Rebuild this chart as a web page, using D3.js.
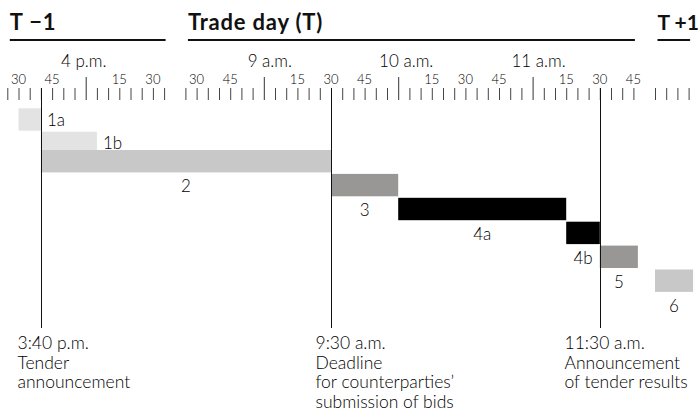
<!DOCTYPE html>
<html>
<head>
<meta charset="utf-8">
<script src="https://cdn.jsdelivr.net/npm/d3@7/dist/d3.min.js"></script>
<style>
  html, body { margin: 0; padding: 0; background: #fff; }
  svg { display: block; font-family: Lato, "Open Sans", sans-serif; }
</style>
</head>
<body>
<svg id="chart" width="700" height="414"></svg>
<script>
// ---------------- DATA ----------------
const days = ["T \u22121", "Trade day (T)", "T +1"];
const dayTickStart = ["T-1 15:25", "T 08:25", "T+1 09:00"];
const dayTickEnd   = ["T-1 16:35", "T 11:45", "T+1 09:15"];

const hourLabels = ["4 p.m.", "9 a.m.", "10 a.m.", "11 a.m."];
const hourTimes  = ["T-1 16:00", "T 09:00", "T 10:00", "T 11:00"];

const minuteTimes = ["T-1 15:30", "T-1 15:45", "T-1 16:15", "T-1 16:30",
                     "T 08:30", "T 08:45", "T 09:15", "T 09:30", "T 09:45",
                     "T 10:15", "T 10:30", "T 10:45", "T 11:15", "T 11:30", "T 11:45"];

const tasks      = ["1a", "1b", "2", "3", "4a", "4b", "5", "6"];
const startTimes = ["T-1 15:30", "T-1 15:40", "T-1 15:40", "T 09:30", "T 10:00", "T 11:15", "T 11:30", "T+1 09:00"];
const endTimes   = ["T-1 15:40", "T-1 16:05", "T 09:30", "T 10:00", "T 11:15", "T 11:30", "T 11:47", "T+1 09:17"];

const eventTimes = ["T-1 15:40", "T 09:30", "T 11:30"];
const eventTexts = [
  ["3:40 p.m.", "Tender", "announcement"],
  ["9:30 a.m.", "Deadline", "for counterparties\u2019", "submission of bids"],
  ["11:30 a.m.", "Announcement", "of tender results"]
];

// ---------------- LAYOUT / STYLE ----------------
const taskColor = {"1a": "#e3e3e3", "1b": "#e3e3e3", "2": "#c8c8c8", "3": "#989795",
                   "4a": "#000000", "4b": "#000000", "5": "#989795", "6": "#c8c8c8"};
const labelRight = {"1a": true, "1b": true};
const hourDx = [-2, 6, 8, 6];
const eventDx = [-24, -16, -36];
const headerSpacing = [0.8, 0.8, 0];
const textColor = "#000";
const lightW = 300;

function parseT(s) {
  const [day, hm] = s.split(" ");
  const [h, m] = hm.split(":").map(Number);
  const off = {"T-1": 0, "T": 1440, "T+1": 2880}[day];
  return off + h * 60 + m;
}

const k = 2.24; // px per minute
const x = d3.scaleLinear()
  .domain([parseT("T-1 15:25"), parseT("T-1 16:35"), parseT("T 08:25"), parseT("T 11:50"), parseT("T+1 09:00"), parseT("T+1 09:20")])
  .range([85.7 - 35 * k, 85.7 + 35 * k, 331 - 65 * k, 331 + 140 * k, 655, 655 + 20 * k]);

const row = d3.scaleLinear().domain([0, 1, 2, 7]).range([108.3, 131.7, 150, 269.5]);
const barH = 22.4;

const svg = d3.select("#chart");

// ---------------- HEADERS ----------------
days.forEach((d, i) => {
  const x0 = x(parseT(dayTickStart[i])) + 2.5;
  const x1 = x(parseT(dayTickEnd[i])) + 1.5;
  svg.append("line").attr("x1", x0).attr("x2", x1).attr("y1", 40).attr("y2", 40)
    .attr("stroke", "#111").attr("stroke-width", 2);
  svg.append("text").attr("x", x0).attr("y", 30).text(d)
    .attr("font-weight", 700).attr("font-size", i === 2 ? 21 : 22)
    .attr("letter-spacing", headerSpacing[i]).attr("fill", "#111");
});

// ---------------- RULER ----------------
let allTicks = [];
days.forEach((d, i) => {
  const a = parseT(dayTickStart[i]), b = parseT(dayTickEnd[i]);
  for (let t = a; t <= b; t += 5) allTicks.push(t);
});
const hourSet = new Set(hourTimes.map(parseT));
const minorTicks = allTicks.filter(t => !hourSet.has(t));

const minorAxis = d3.axisTop(x).tickValues(minorTicks).tickSize(12).tickFormat("");
svg.append("g").attr("transform", "translate(0,100)").call(minorAxis)
  .call(g => g.select(".domain").remove())
  .call(g => g.selectAll("line").attr("stroke", "#444").attr("stroke-width", 1));

const majorAxis = d3.axisTop(x).tickValues(hourTimes.map(parseT)).tickSize(23).tickFormat("");
svg.append("g").attr("transform", "translate(0,100)").call(majorAxis)
  .call(g => g.select(".domain").remove())
  .call(g => g.selectAll("line").attr("stroke", "#333").attr("stroke-width", 1));

// minute labels
svg.append("g").selectAll("text").data(minuteTimes).join("text")
  .attr("x", d => x(parseT(d)))
  .attr("y", 84)
  .attr("text-anchor", "middle")
  .attr("font-size", 13)
  .attr("font-weight", lightW)
  .attr("fill", textColor)
  .text(d => d.split(":")[1]);

// hour labels
svg.append("g").selectAll("text").data(hourLabels).join("text")
  .attr("x", (d, i) => x(parseT(hourTimes[i])) + hourDx[i])
  .attr("y", 67)
  .attr("text-anchor", "middle")
  .attr("font-size", 17)
  .attr("font-weight", lightW)
  .attr("fill", textColor)
  .text(d => d);

// ---------------- BARS ----------------
const bars = svg.append("g");
tasks.forEach((t, i) => {
  const x0 = x(parseT(startTimes[i])), x1 = x(parseT(endTimes[i]));
  bars.append("rect")
    .attr("x", x0).attr("y", row(i))
    .attr("width", x1 - x0).attr("height", barH)
    .attr("fill", taskColor[t]);
});
tasks.forEach((t, i) => {
  const x0 = x(parseT(startTimes[i])), x1 = x(parseT(endTimes[i]));
  const lab = bars.append("text").attr("font-size", 17).attr("font-weight", lightW)
    .attr("fill", textColor).text(t);
  if (labelRight[t]) {
    lab.attr("x", x1 + 6).attr("y", row(i) + barH / 2 + 6);
  } else {
    lab.attr("x", (x0 + x1) / 2).attr("y", row(i) + barH + 20).attr("text-anchor", "middle");
  }
});

// ---------------- EVENT LINES ----------------
eventTimes.forEach((e, i) => {
  const ex = Math.round(x(parseT(e))) + 0.5;
  svg.append("line").attr("x1", ex).attr("x2", ex).attr("y1", 88).attr("y2", 328)
    .attr("stroke", "#111").attr("stroke-width", 1);
  const tx = svg.append("text").attr("font-size", 17.5).attr("font-weight", lightW).attr("fill", textColor);
  eventTexts[i].forEach((line, j) => {
    tx.append("tspan").attr("x", ex + eventDx[i]).attr("y", 349 + j * 19.7).text(line);
  });
});
</script>
</body>
</html>
